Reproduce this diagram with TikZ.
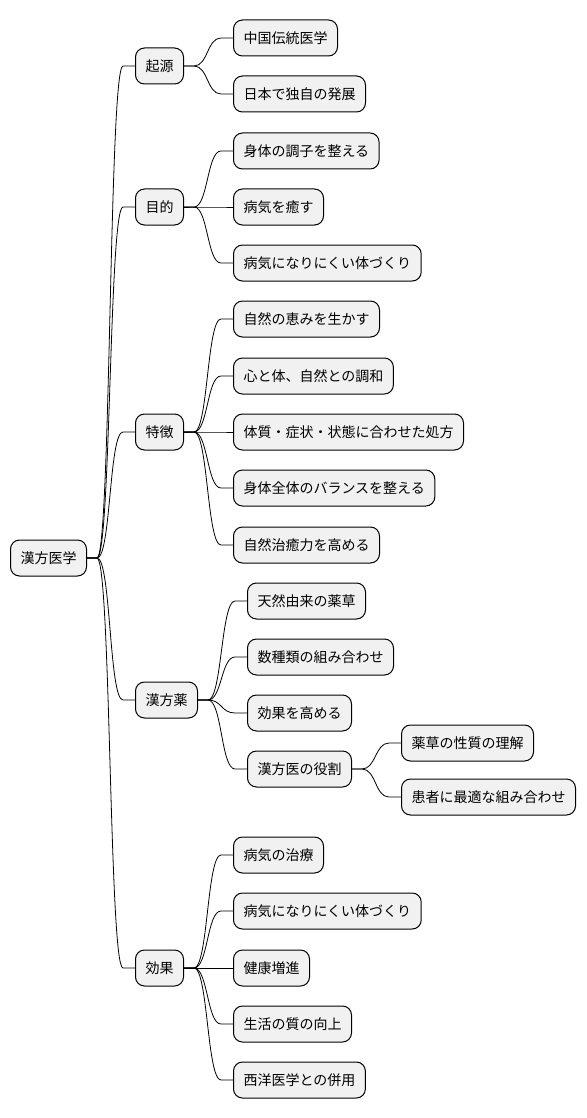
\documentclass[tikz,border=0pt]{standalone}
\usepackage{fontspec}
\setmainfont{Noto Sans CJK JP}
\usetikzlibrary{calc, positioning}
\definecolor{mapfill}{HTML}{F1F1F1}
\tikzset{
  % nodo della mappa
  mnode/.style={draw=black, line width=1pt, fill=mapfill, rounded corners=9pt,
    minimum height=36pt, inner xsep=10pt, anchor=west,
    font=\fontsize{14}{17}\selectfont},
  % ramo fra due nodi
  ramo/.style={line width=0.8pt, to path={(\tikztostart) -- ++(10,0) coordinate (r0)
    .. controls ($(r0)+(14,0)$) and ($(\tikztotarget)+(-26,0)$)
    .. ($(\tikztotarget)+(-12,0)$) -- (\tikztotarget)}},
}
\begin{document}
\begin{tikzpicture}[x=1pt, y=-1pt]
  \useasboundingbox (0,0) rectangle (586,1118);
  % radice
  \node[mnode] (root) at (10,558) {漢方医学};
  % primo livello
  \node[mnode] (kigen) at (135,66) {起源};
  \node[mnode] (mokuteki) at (135,207) {目的};
  \node[mnode] (tokucho) at (135,432) {特徴};
  \node[mnode] (yaku) at (135,700) {漢方薬};
  \node[mnode] (koka) at (135,968) {効果};
  %起源
  \node[mnode] (ki1) at (233,38) {中国伝統医学};
  \node[mnode] (ki2) at (233,94) {日本で独自の発展};
  % 目的
  \node[mnode] (mo1) at (233,151) {身体の調子を整える};
  \node[mnode] (mo2) at (233,207) {病気を癒す};
  \node[mnode] (mo3) at (233,263) {病気になりにくい体づくり};
  % 特徴
  \node[mnode] (to1) at (233,319) {自然の恵みを生かす};
  \node[mnode] (to2) at (233,376) {心と体、自然との調和};
  \node[mnode] (to3) at (233,432) {体質・症状・状態に合わせた処方};
  \node[mnode] (to4) at (233,488) {身体全体のバランスを整える};
  \node[mnode] (to5) at (233,545) {自然治癒力を高める};
  % 漢方薬
  \node[mnode] (ya1) at (247,601) {天然由来の薬草};
  \node[mnode] (ya2) at (247,657) {数種類の組み合わせ};
  \node[mnode] (ya3) at (247,713) {効果を高める};
  \node[mnode] (ya4) at (247,769) {漢方医の役割};
  \node[mnode] (ro1) at (401,743) {薬草の性質の理解};
  \node[mnode] (ro2) at (401,797) {患者に最適な組み合わせ};
  % 効果
  \node[mnode] (ko1) at (233,855) {病気の治療};
  \node[mnode] (ko2) at (233,911) {病気になりにくい体づくり};
  \node[mnode] (ko3) at (233,968) {健康増進};
  \node[mnode] (ko4) at (233,1024) {生活の質の向上};
  \node[mnode] (ko5) at (233,1080) {西洋医学との併用};
  % rami
  \foreach \c in {kigen, mokuteki, tokucho, yaku, koka}
    \draw[ramo] (root.east) to (\c.west);
  \foreach \c in {ki1, ki2}
    \draw[ramo] (kigen.east) to (\c.west);
  \foreach \c in {mo1, mo2, mo3}
    \draw[ramo] (mokuteki.east) to (\c.west);
  \foreach \c in {to1, to2, to3, to4, to5}
    \draw[ramo] (tokucho.east) to (\c.west);
  \foreach \c in {ya1, ya2, ya3, ya4}
    \draw[ramo] (yaku.east) to (\c.west);
  \foreach \c in {ro1, ro2}
    \draw[ramo] (ya4.east) to (\c.west);
  \foreach \c in {ko1, ko2, ko3, ko4, ko5}
    \draw[ramo] (koka.east) to (\c.west);
\end{tikzpicture}
\end{document}
